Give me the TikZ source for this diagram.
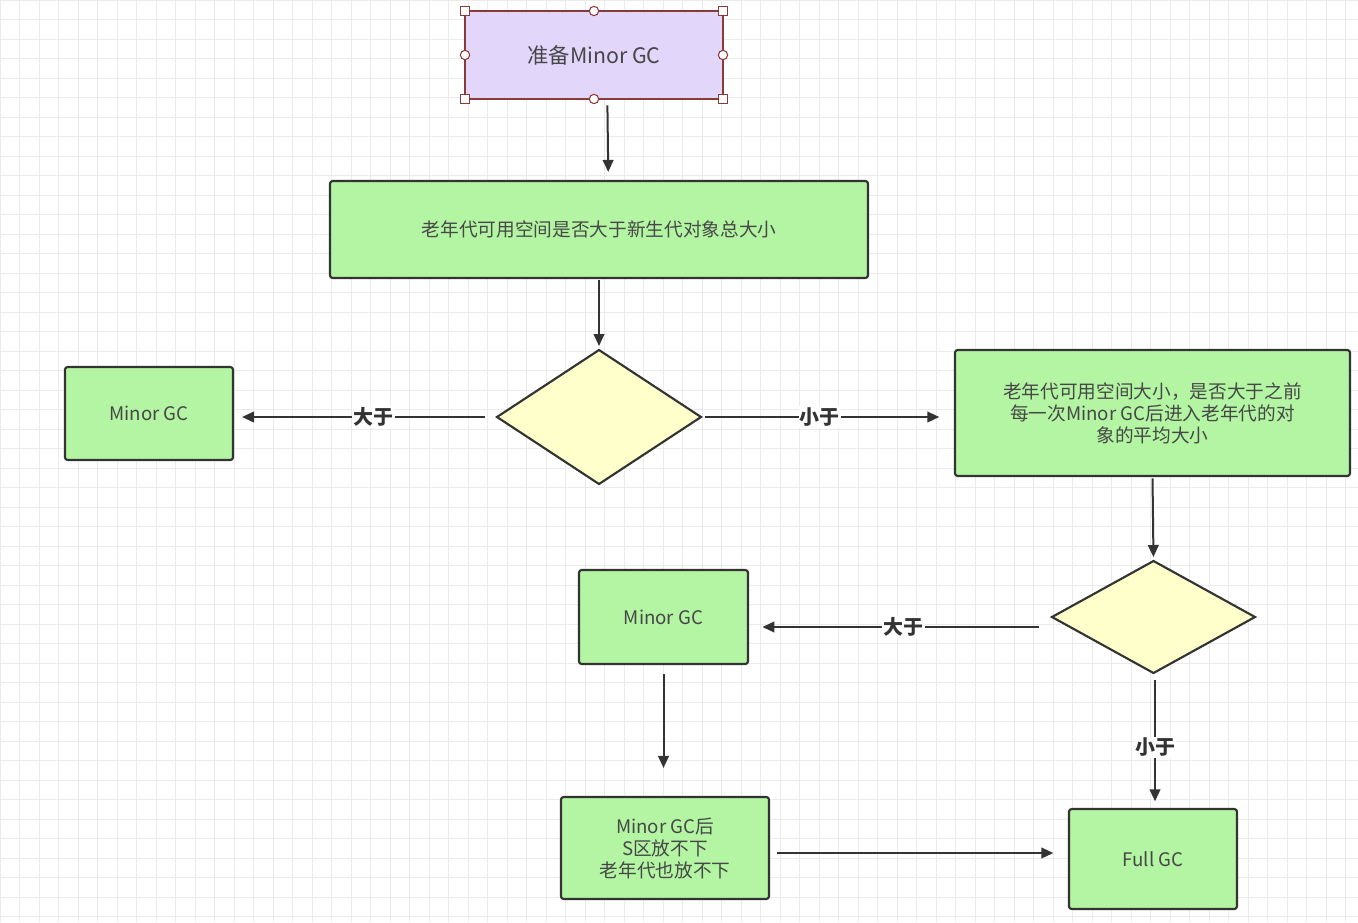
\documentclass[tikz,border=0pt]{standalone}
\usepackage{fontspec}
\setmainfont{Noto Sans CJK SC}
\usetikzlibrary{shapes.geometric,arrows.meta}
\definecolor{gfill}{HTML}{B3F5A3}
\definecolor{pfill}{HTML}{E2D6FA}
\definecolor{yfill}{HTML}{FFFFCC}
\definecolor{ln}{HTML}{333333}
\definecolor{sel}{HTML}{8B3A3A}
\tikzset{
  box/.style={draw=ln,line width=1.6pt,fill=gfill,rounded corners=2pt,align=center,font=\fontsize{14}{16.5}\selectfont,text=ln!90},
  dia/.style={draw=ln,line width=1.6pt,fill=yfill,line join=miter},
  arr/.style={draw=ln,line width=1.5pt,-{Triangle[length=9pt,width=8pt]}},
  lab/.style={fill=white,inner sep=1pt,font=\bfseries\fontsize{15}{17}\selectfont,text=ln},
  hc/.style={circle,draw=sel,fill=white,inner sep=0pt,minimum size=7pt,line width=0.8pt},
  hs/.style={rectangle,draw=sel,fill=white,inner sep=0pt,minimum size=7pt,line width=0.8pt}
}
\begin{document}
\begin{tikzpicture}[x=0.75pt,y=-0.75pt]
\useasboundingbox (0,0) rectangle (1358,922);
\fill[white] (0,0) rectangle (1358,922);
\foreach \i in {0,...,70} {\draw[black!8,line width=0.6pt] (\i*19.5,0) -- (\i*19.5,922);}
\foreach \i in {0,...,48} {\draw[black!8,line width=0.6pt] (0,\i*19.5) -- (1358,\i*19.5);}
\node[box,draw=sel,fill=pfill,rounded corners=0pt,minimum width=193.5pt,minimum height=66pt,font=\fontsize{16}{18}\selectfont] (start) at (594,55) {准备Minor GC};
\node[hs] at (465,11) {}; \node[hs] at (723,11) {}; \node[hs] at (465,99) {}; \node[hs] at (723,99) {};
\node[hc] at (594,11) {}; \node[hc] at (594,99) {}; \node[hc] at (465,55) {}; \node[hc] at (723,55) {};
\node[box,minimum width=403.5pt,minimum height=72.75pt] (b1) at (599,229.5) {老年代可用空间是否大于新生代对象总大小};
\coordinate (d1n) at (599,350); \coordinate (d1s) at (599,484);
\coordinate (d1w) at (497,417); \coordinate (d1e) at (701,417);
\draw[dia] (d1n) -- (d1e) -- (d1s) -- (d1w) -- cycle;
\node[box,minimum width=126pt,minimum height=69.75pt] (m1) at (149,413.5) {Minor GC};
\node[box,minimum width=296.25pt,minimum height=94.5pt] (b2) at (1152.5,413) {老年代可用空间大小，是否大于之前\\每一次Minor GC后进入老年代的对\\象的平均大小};
\coordinate (d2n) at (1153.5,561); \coordinate (d2s) at (1153.5,673);
\coordinate (d2w) at (1052,617); \coordinate (d2e) at (1255,617);
\draw[dia] (d2n) -- (d2e) -- (d2s) -- (d2w) -- cycle;
\coordinate (d2wa) at (1052,627); \coordinate (d2sa) at (1155,673);
\node[box,minimum width=126.75pt,minimum height=70.5pt] (m2) at (663.5,617) {Minor GC};
\node[box,minimum width=156pt,minimum height=76.5pt] (b3) at (665,848) {Minor GC后\\S区放不下\\老年代也放不下};
\coordinate (b3a) at (769,853);
\node[box,minimum width=126pt,minimum height=75pt] (f) at (1153,859) {Full GC};
\draw[arr,shorten <=4pt,shorten >=6pt] ([xshift=10pt]start.south) -- ([xshift=7pt]b1.north);
\draw[arr,shorten <=1pt,shorten >=3pt] (b1.south) -- (d1n);
\draw[arr,shorten <=9pt,shorten >=6pt] (d1w) -- node[lab,pos=0.47]{大于} (m1.east |- d1w);
\draw[arr,shorten <=3pt,shorten >=11pt] (d1e) -- node[lab,pos=0.47]{小于} (b2.west |- d1e);
\draw[arr,shorten <=1pt,shorten >=3pt] (b2.south) -- (d2n);
\draw[arr,shorten <=10pt,shorten >=10pt] (d2wa) -- node[lab,pos=0.49]{大于} (m2.east |- d2wa);
\draw[arr,shorten <=5pt,shorten >=5pt] (d2sa) -- node[lab,pos=0.55]{小于} (f.north -| d2sa);
\draw[arr,shorten <=7pt,shorten >=21pt] (m2.south) -- (b3.north -| m2.south);
\draw[arr,shorten <=6pt,shorten >=11pt] (b3a) -- (f.west |- b3a);
\end{tikzpicture}
\end{document}
